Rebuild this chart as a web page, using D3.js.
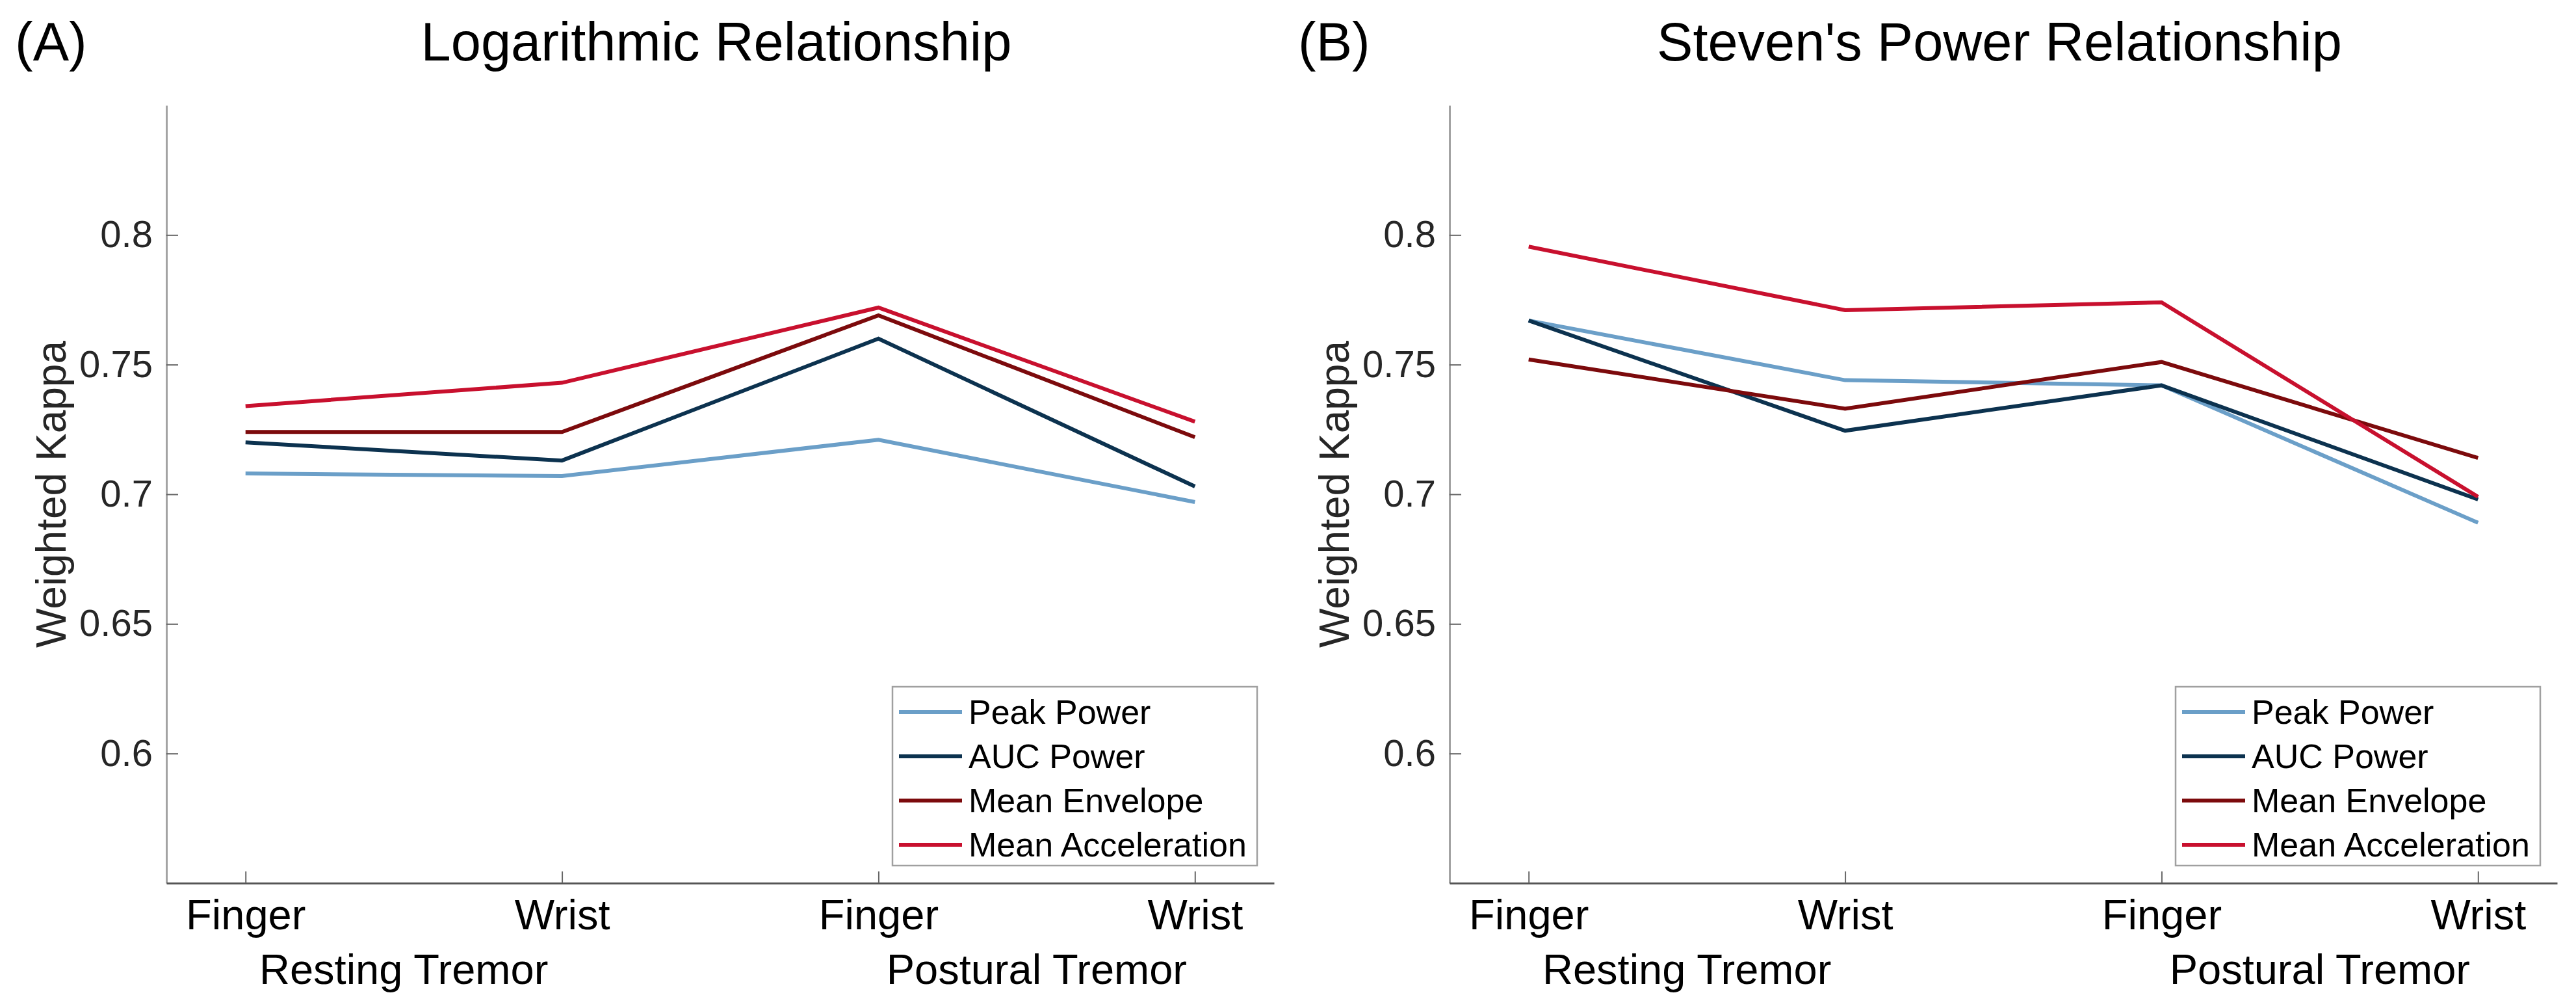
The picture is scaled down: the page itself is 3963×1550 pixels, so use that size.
<!DOCTYPE html>
<html>
<head>
<meta charset="utf-8">
<script src="https://cdn.jsdelivr.net/npm/d3@7"></script>
<style>
  body { margin: 0; background: #fff; }
  svg { display: block; font-family: "Liberation Sans", Arial, sans-serif; }
</style>
</head>
<body>
<svg id="chart"></svg>
<script>
// data
var categories = ["Finger", "Wrist", "Finger", "Wrist"];
var groups = ["Resting Tremor", "Postural Tremor"];
var seriesNames = ["Peak Power", "AUC Power", "Mean Envelope", "Mean Acceleration"];
var seriesColors = ["#6b9fc8", "#0c324f", "#7c0a0c", "#c8102e"];

var logPeak = [0.708, 0.707, 0.721, 0.697];
var logAuc  = [0.720, 0.713, 0.760, 0.703];
var logEnv  = [0.724, 0.724, 0.769, 0.722];
var logAcc  = [0.734, 0.743, 0.772, 0.728];

var powPeak = [0.767, 0.744, 0.742, 0.689];
var powAuc  = [0.767, 0.7245, 0.742, 0.698];
var powEnv  = [0.752, 0.733, 0.751, 0.714];
var powAcc  = [0.7955, 0.771, 0.774, 0.699];

var yTicks = [0.6, 0.65, 0.7, 0.75, 0.8];
var yDomain = [0.55, 0.85];

var W = 3963, H = 1550;
var svg = d3.select("#chart").attr("width", W).attr("height", H);

var panels = [
    { tag: "(A)", title: "Logarithmic Relationship", left: 256, data: [logPeak, logAuc, logEnv, logAcc] },
    { tag: "(B)", title: "Steven's Power Relationship", left: 2230, data: [powPeak, powAuc, powEnv, powAcc] }
];

var plotW = 1704, plotTop = 162, plotBottom = 1358;

panels.forEach(function (p) {
    var g = svg.append("g");
    var x = d3.scaleLinear().domain([0.75, 4.25]).range([p.left, p.left + plotW]);
    var y = d3.scaleLinear().domain(yDomain).range([plotBottom, plotTop]);

    // y axis
    var ya = g.append("g")
        .attr("transform", "translate(" + p.left + ",0)")
        .call(d3.axisLeft(y).tickValues(yTicks).tickSizeInner(-18).tickSizeOuter(0)
            .tickPadding(21).tickFormat(function (d) { return String(+d.toFixed(2)); }));
    ya.select(".domain").attr("stroke", "#a3a3a3").attr("stroke-width", 3);
    ya.selectAll(".tick line").attr("stroke", "#666").attr("stroke-width", 2);
    ya.selectAll(".tick text").attr("font-size", 58).attr("fill", "#262626")
        .attr("font-family", "'Liberation Sans', Arial, sans-serif");

    // x axis
    var xa = g.append("g")
        .attr("transform", "translate(0," + plotBottom + ")")
        .call(d3.axisBottom(x).tickValues([1, 2, 3, 4]).tickSizeInner(-18).tickSizeOuter(0)
            .tickPadding(0).tickFormat(function (d) { return categories[d - 1]; }));
    xa.select(".domain").attr("stroke", "#555").attr("stroke-width", 3);
    xa.selectAll(".tick line").attr("stroke", "#666").attr("stroke-width", 2);
    xa.selectAll(".tick text").attr("font-size", 65).attr("fill", "#000")
        .attr("dy", null).attr("y", 71)
        .attr("font-family", "'Liberation Sans', Arial, sans-serif");

    // group labels under the ticks
    g.selectAll(".grp").data(groups).enter().append("text")
        .attr("class", "grp")
        .attr("x", function (d, i) { return x(i * 2 + 1.5); })
        .attr("y", 1513)
        .attr("text-anchor", "middle")
        .attr("font-size", 65)
        .text(function (d) { return d; });

    // y label
    g.append("text")
        .attr("transform", "translate(" + (p.left - 155) + "," + y(0.7) + ") rotate(-90)")
        .attr("text-anchor", "middle")
        .attr("font-size", 64)
        .attr("fill", "#262626")
        .text("Weighted Kappa");

    // title and panel tag
    g.append("text")
        .attr("x", p.left + plotW / 2 - 6)
        .attr("y", 93)
        .attr("text-anchor", "middle")
        .attr("font-size", 83)
        .text(p.title);
    g.append("text")
        .attr("x", p.left - 233)
        .attr("y", 93)
        .attr("font-size", 83)
        .text(p.tag);

    // lines
    var line = d3.line()
        .x(function (d, i) { return x(i + 1); })
        .y(function (d) { return y(d); });
    g.selectAll(".series").data(p.data).enter().append("path")
        .attr("class", "series")
        .attr("d", line)
        .attr("fill", "none")
        .attr("stroke", function (d, i) { return seriesColors[i]; })
        .attr("stroke-width", 6)
        .attr("stroke-linejoin", "miter");

    // legend
    var bx = p.left + plotW - 587, by = 1056;
    var lg = g.append("g").attr("transform", "translate(" + bx + "," + by + ")");
    lg.append("rect")
        .attr("width", 561).attr("height", 275)
        .attr("fill", "#fff").attr("stroke", "#a0a0a0").attr("stroke-width", 2.5);
    var item = lg.selectAll(".item").data(seriesNames).enter().append("g")
        .attr("class", "item")
        .attr("transform", function (d, i) { return "translate(0," + (39 + i * 68) + ")"; });
    item.append("line")
        .attr("x1", 10).attr("x2", 107)
        .attr("stroke", function (d, i) { return seriesColors[i]; })
        .attr("stroke-width", 6);
    item.append("text")
        .attr("x", 117).attr("y", 18)
        .attr("font-size", 52)
        .text(function (d) { return d; });
});
</script>
</body>
</html>
